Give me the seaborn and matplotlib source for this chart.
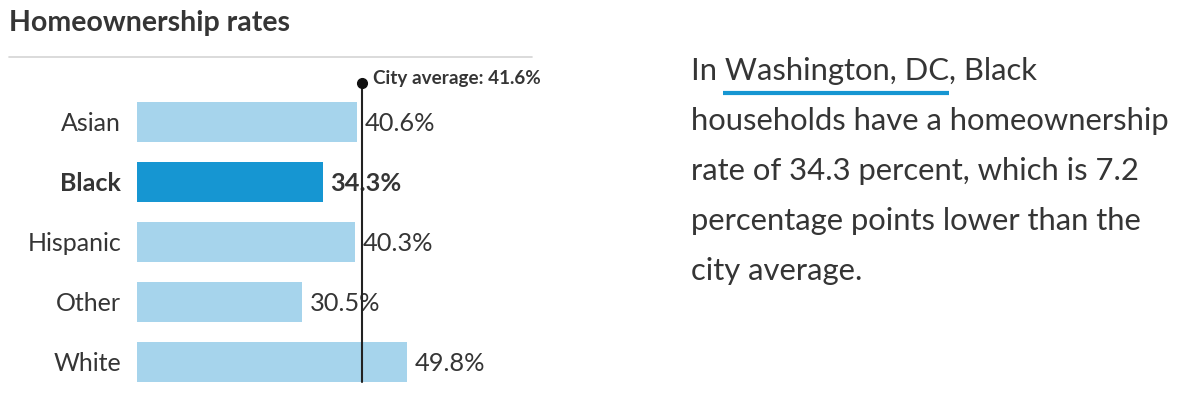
import pandas as pd
import seaborn as sns
import matplotlib.pyplot as plt
from matplotlib.lines import Line2D

# ----------------------------------------
# Data
# ----------------------------------------

groups = ["Asian", "Black", "Hispanic", "Other", "White"]
rates = [40.6, 34.3, 40.3, 30.5, 49.8]
highlight = "Black"
city_average = 41.6

paragraph = [
    "In Washington, DC, Black",
    "households have a homeownership",
    "rate of 34.3 percent, which is 7.2",
    "percentage points lower than the",
    "city average.",
]

# ----------------------------------------
# Style
# ----------------------------------------

sns.set_style("white")
plt.rcParams["font.family"] = ["Lato", "DejaVu Sans"]

TEXT = "#353535"
LIGHT = "#a6d4ec"
DARK = "#1696d2"

df = pd.DataFrame({"group": groups, "rate": rates})
palette = {g: (DARK if g == highlight else LIGHT) for g in groups}

W, H = 1200, 417
fig = plt.figure(figsize=(W / 100, H / 100), dpi=100)
fig.patch.set_facecolor("white")

# axes placed so that one category step = 60 px
ax = fig.add_axes([137 / W, 1 - 391.7 / H, 325 / W, 300 / H])

bar_width = 0.667
sns.barplot(data=df, x="rate", y="group", hue="group", palette=palette,
            order=groups, hue_order=groups, orient="h", width=bar_width,
            saturation=1, linewidth=0, legend=False, ax=ax)

ax.set_xlim(0, 60)
ax.set_ylim(len(groups) - 0.5, -0.5)
ax.set_xlabel("")
ax.set_ylabel("")
ax.set_xticks([])
sns.despine(ax=ax, left=True, bottom=True)
ax.tick_params(axis="y", length=0, pad=11.5, labelsize=18, labelcolor=TEXT)
for lbl in ax.get_yticklabels():
    if lbl.get_text() == highlight:
        lbl.set_fontweight("bold")

# value labels
for i, (g, v) in enumerate(zip(groups, rates)):
    ax.annotate(f"{v:.1f}%", xy=(v, i), xytext=(5.5, -6.5), textcoords="offset points",
                ha="left", va="baseline", fontsize=18.3, color=TEXT,
                fontweight="bold" if g == highlight else "normal")

# city average line with dot
y_bottom = len(groups) - 1 + bar_width / 2
y_top = -0.5 - 0.145
ax.plot([city_average, city_average], [y_bottom, y_top], color="#222222",
        lw=1.5, clip_on=False, zorder=5)
ax.plot([city_average], [y_top], marker="o", markersize=7, color="#111111",
        clip_on=False, zorder=6)
ax.annotate(f"City average: {city_average:.1f}%", xy=(city_average, y_top),
            xytext=(7.5, -0.8), textcoords="offset points", ha="left", va="baseline",
            fontsize=13.6, fontweight="bold", color=TEXT, annotation_clip=False)

# ----------------------------------------
# Title and rule
# ----------------------------------------

fig.text(9 / W, 1 - 31 / H, "Homeownership rates", fontsize=20.5, fontweight="bold",
         color=TEXT, ha="left", va="baseline")
fig.add_artist(Line2D([9 / W, 532 / W], [1 - 56.5 / H, 1 - 56.5 / H],
                      color="#d4d4d4", lw=1.2))

# ----------------------------------------
# Side paragraph
# ----------------------------------------

for k, line in enumerate(paragraph):
    fig.text(691 / W, 1 - (80 + 50 * k) / H, line, fontsize=22.3, color=TEXT,
             ha="left", va="baseline")

# underline under "Washington, DC"
fig.add_artist(Line2D([723 / W, 949 / W], [1 - 93.3 / H, 1 - 93.3 / H],
                      color=DARK, lw=3, solid_capstyle="butt"))

fig.savefig("out.png", dpi=100, facecolor="white")
